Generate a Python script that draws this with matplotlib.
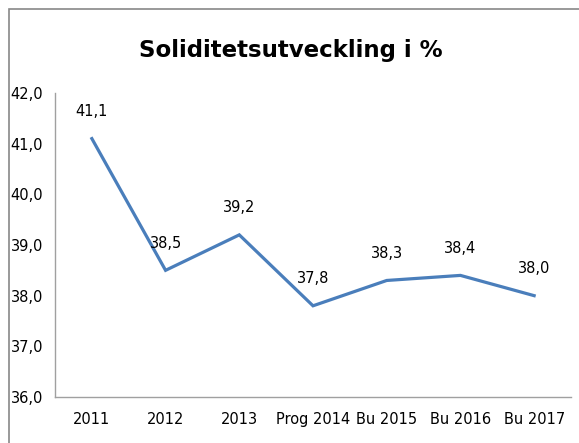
import matplotlib
matplotlib.use("Agg")
import matplotlib.pyplot as plt
from matplotlib.patches import Rectangle

categories = ["2011", "2012", "2013", "Prog 2014", "Bu 2015", "Bu 2016", "Bu 2017"]
values = [41.1, 38.5, 39.2, 37.8, 38.3, 38.4, 38.0]
yticks = [36, 37, 38, 39, 40, 41, 42]

plt.rcParams['font.family'] = ['Liberation Sans Narrow', 'DejaVu Sans']

W, H = 579, 443
fig = plt.figure(figsize=(W/100, H/100), dpi=100)
ax = fig.add_axes([55/W, 1 - 397/H, (571-55)/W, (397-93)/H])

x = list(range(len(categories)))
ax.plot(x, values, color="#4a7ebb", linewidth=2.3, solid_joinstyle='miter')
for xi, v in zip(x, values):
    ax.annotate(f"{v:.1f}".replace(".", ","), (xi, v), xytext=(0, 27),
                textcoords='offset pixels', ha='center', va='center', fontsize=10.5)

ax.set_xlim(-0.5, len(categories) - 0.5)
ax.set_ylim(36, 42)
ax.set_yticks(yticks)
ax.set_yticklabels([f"{t:.1f}".replace(".", ",") for t in yticks], fontsize=10.5)
ax.set_xticks(x)
ax.set_xticklabels(categories, fontsize=10.5)
ax.tick_params(axis='both', length=0)
ax.tick_params(axis='y', pad=8.5)
ax.tick_params(axis='x', pad=11)
for s in ['top', 'right']:
    ax.spines[s].set_visible(False)
for s in ['left', 'bottom']:
    ax.spines[s].set_color('#a0a0a0')
    ax.spines[s].set_linewidth(1)

fig.text(291/W, 1 - 50/H, "Soliditetsutveckling i %", ha='center', va='center',
         fontsize=16.5, fontweight='bold', family=['Liberation Sans Narrow', 'DejaVu Sans'])

fig.patches.append(Rectangle((9/W, -0.1), 1.2, 1.1 - 9/H, transform=fig.transFigure,
                             fill=False, edgecolor='#888888', linewidth=1.2))

fig.savefig("out.png", dpi=100)
